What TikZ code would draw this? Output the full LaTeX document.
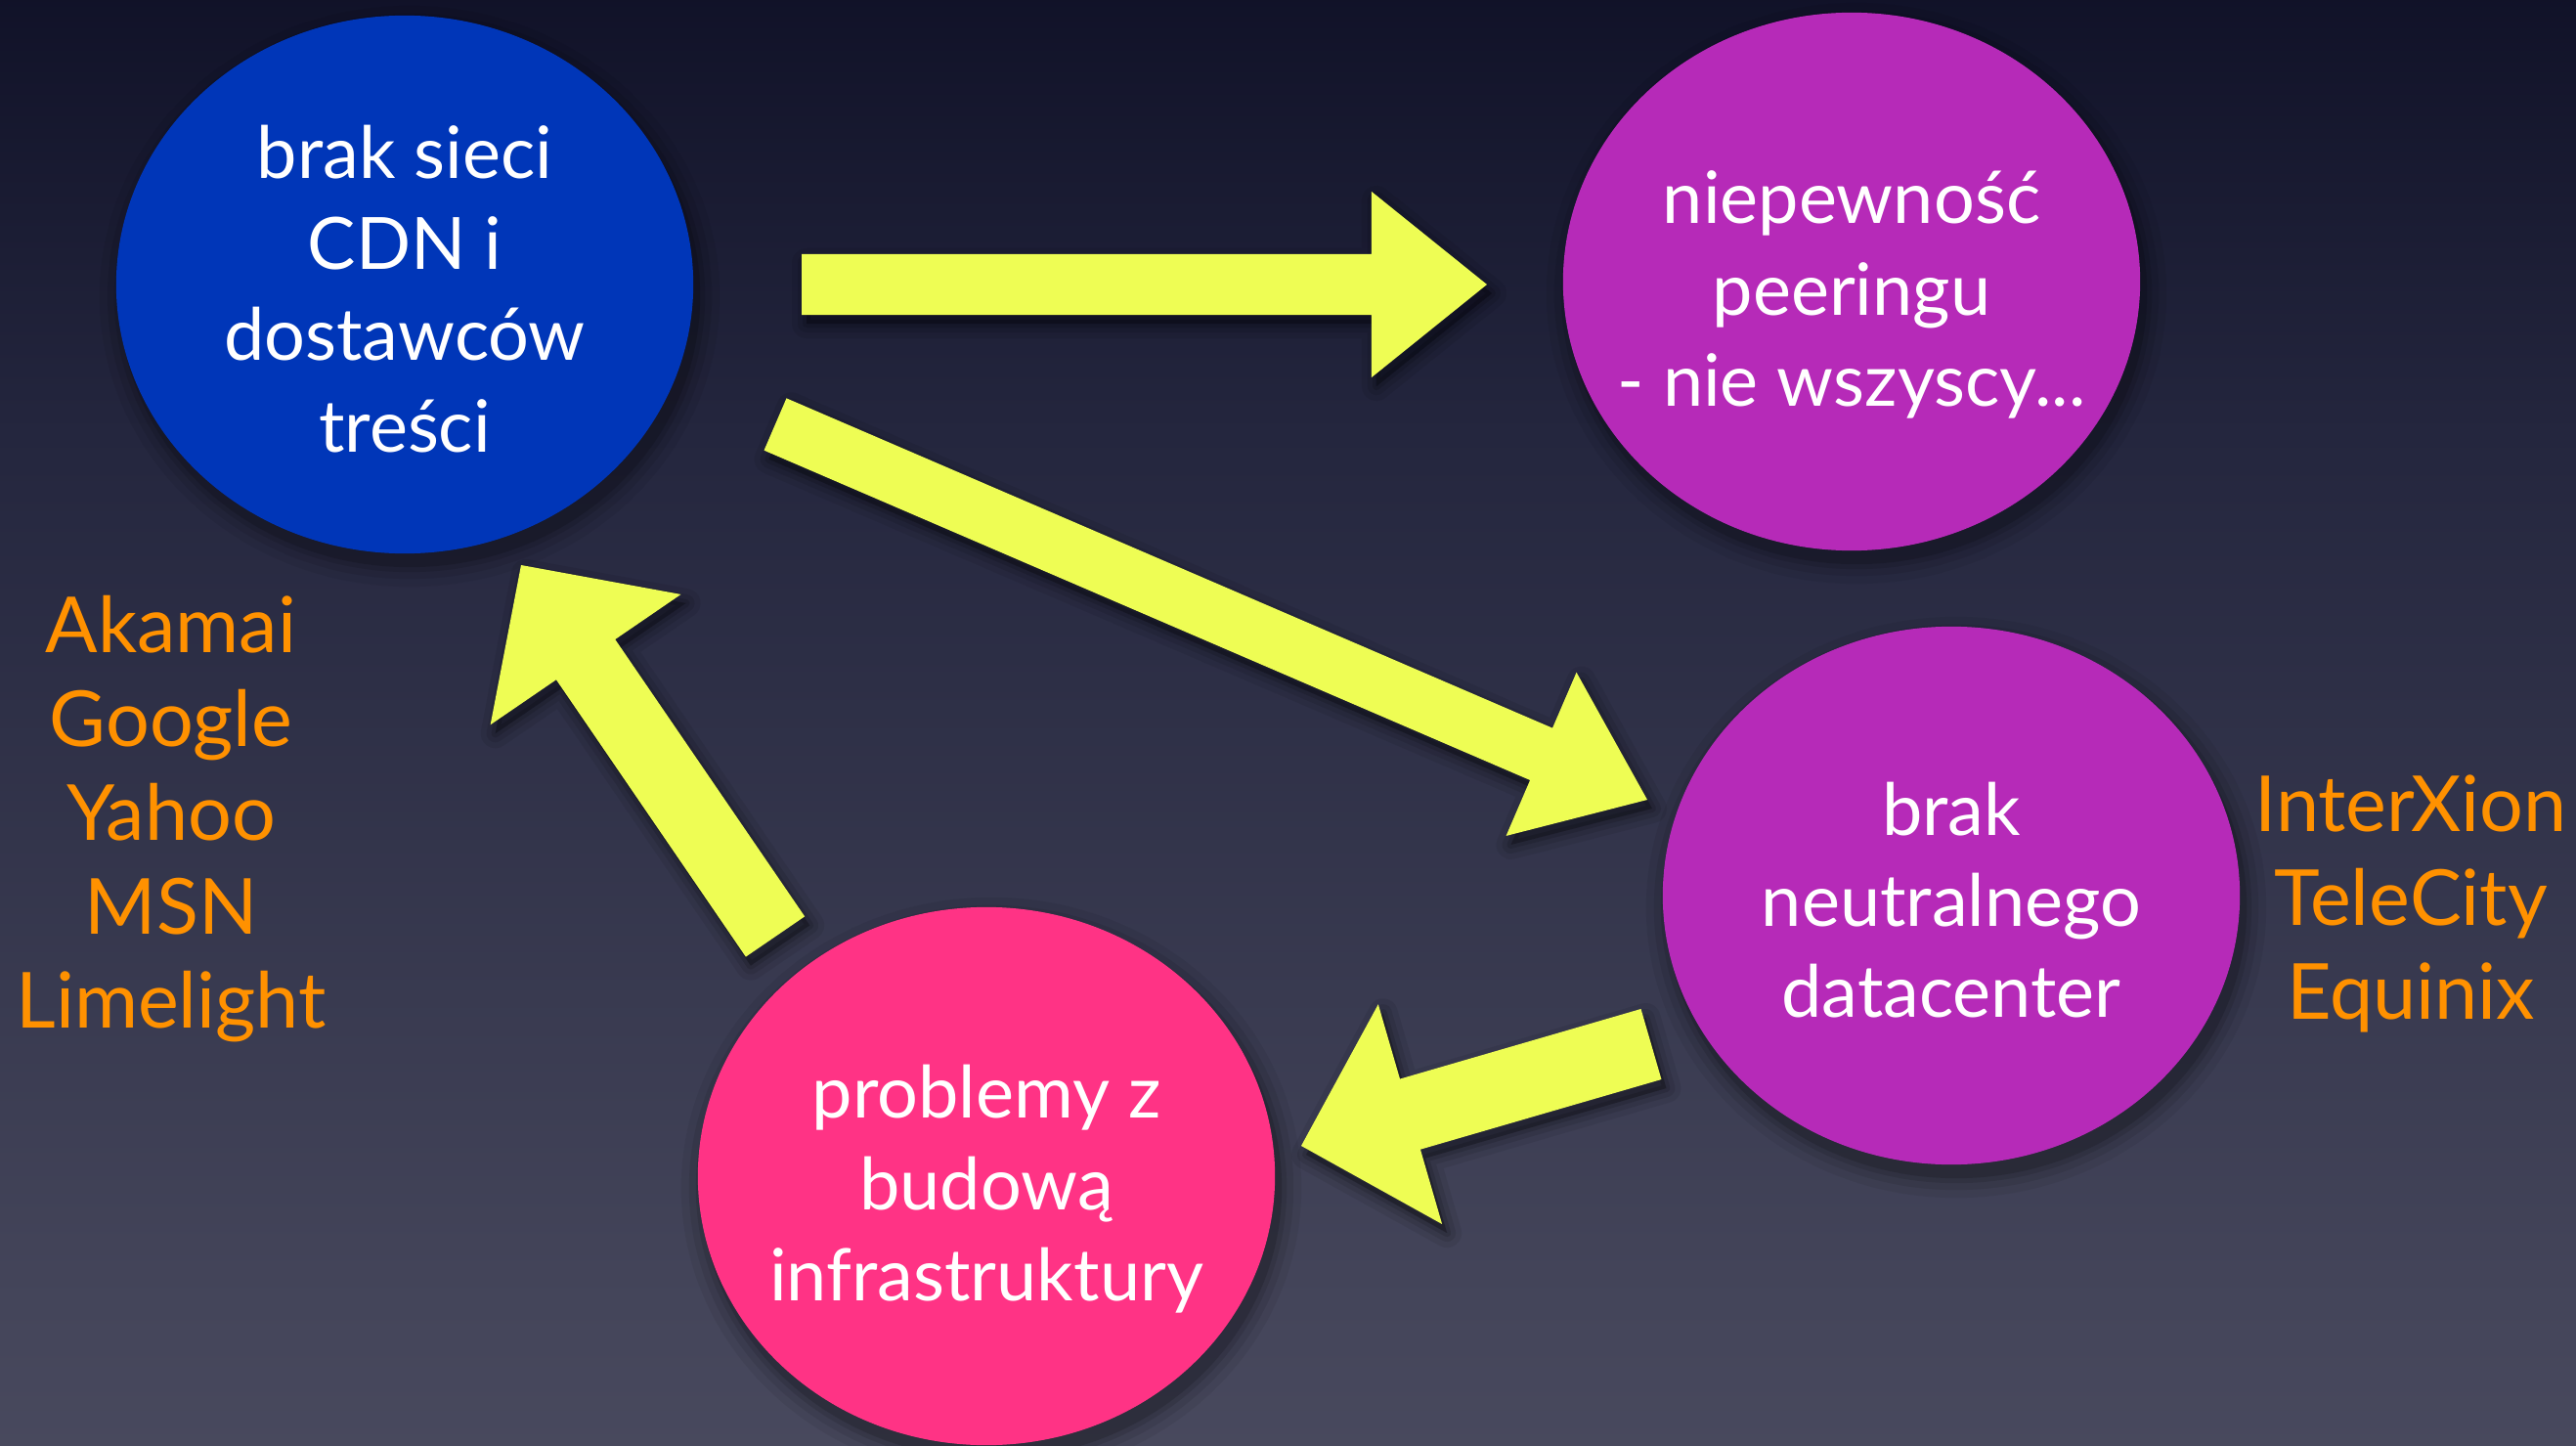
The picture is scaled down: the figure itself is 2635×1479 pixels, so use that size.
\documentclass[tikz,border=0pt]{standalone}
\usepackage{fontspec}
\setmainfont{Lato}
\usetikzlibrary{calc,shapes.geometric}
\definecolor{cblue}{RGB}{0,54,184}
\definecolor{cpurple}{RGB}{182,42,184}
\definecolor{cpink}{RGB}{255,51,133}
\definecolor{cyellow}{RGB}{238,253,84}
\definecolor{corange}{RGB}{255,145,0}
\definecolor{bg0}{RGB}{0,0,4}
\definecolor{bg1}{RGB}{4,5,26}
\definecolor{bg2}{RGB}{36,38,62}
\definecolor{bg3}{RGB}{68,69,90}
\definecolor{bg4}{RGB}{92,92,110}
\pgfdeclareverticalshading{bgshade}{100bp}{color(0bp)=(bg4); color(30bp)=(bg3); color(60bp)=(bg2); color(85bp)=(bg1); color(100bp)=(bg0)}
\newcommand\topstrut[1]{\rule{0pt}{#1}}
\newcommand\blockarrow[5]{%
  \path ($(#2)!#5!(#1)$) coordinate (hb);
  \path ($(#1)!#3!90:(#2)$) coordinate (p1)
        ($(hb)!#3!-90:(#1)$) coordinate (p2)
        ($(hb)!#4!-90:(#1)$) coordinate (p3)
        ($(hb)!#4!90:(#1)$) coordinate (p5)
        ($(hb)!#3!90:(#1)$) coordinate (p6)
        ($(#1)!#3!-90:(#2)$) coordinate (p7);
  \foreach \lw/\op in {0.30/0.07,0.18/0.09,0.08/0.12}{
    \filldraw[black, opacity=\op, line width=\lw cm, line join=round,
      transform canvas={xshift=0.05cm,yshift=-0.09cm}]
      (p1) -- (p2) -- (p3) -- (#2) -- (p5) -- (p6) -- (p7) -- cycle;
  }
  \fill[arrowfill] (p1) -- (p2) -- (p3) -- (#2) -- (p5) -- (p6) -- (p7) -- cycle;
}
\begin{document}
\begin{tikzpicture}[x=0.01cm,y=-0.01cm,
  bubble/.style={ellipse, minimum width=5.9cm, minimum height=5.5cm,
    inner xsep=-1.5cm, inner ysep=0pt, text=white, align=center,
    font=\fontsize{21}{26.5}\selectfont},
  side/.style={text=corange, align=center, inner sep=0pt,
    font=\fontsize{22.5}{27.3}\selectfont},
  arrowfill/.style={fill=cyellow}]
\useasboundingbox (0,0) rectangle (2635,1479);
\fill[shading=bgshade] (0,0) rectangle (2635,1479);

% circle centres
\coordinate (cB) at (414,291);
\coordinate (cP) at (1894,288);
\coordinate (cD) at (1996,916);
\coordinate (cI) at (1009,1203);

% circle shadows
\foreach \c in {cB,cP,cD,cI}{
  \foreach \rx/\ry/\op in {3.17/2.97/0.06,3.09/2.89/0.08,3.02/2.82/0.10,2.97/2.77/0.14}{
    \fill[black, opacity=\op, transform canvas={xshift=0.05cm,yshift=-0.12cm}]
      (\c) ellipse [x radius=\rx cm, y radius=\ry cm];
  }
}

\node[bubble, fill=cblue] (cdn) at (cB) {\topstrut{18pt}brak sieci\\CDN i\\dostawców\\treści};
\node[bubble, fill=cpurple] (peer) at (cP) {\topstrut{23pt}niepewność\\peeringu\\- nie wszyscy...};
\node[bubble, fill=cpurple] (dc) at (cD) {\topstrut{18pt}brak\\neutralnego\\datacenter};
\node[bubble, fill=cpink] (infra) at (cI) {\topstrut{23pt}problemy z\\budową\\infrastruktury};

\node[side] (cdnlist) at (175,838) {Akamai\\Google\\Yahoo\\MSN\\Limelight};
\node[side] (dclist) at (2466,924) {InterXion\\TeleCity\\Equinix};

% arrows
\coordinate (a1s) at (820,291);
\coordinate (a1t) at (1521,291);
\coordinate (a2s) at (793,434);
\coordinate (a2t) at (1685,818);
\coordinate (a3s) at (1689,1068);
\coordinate (a3t) at (1331,1172);
\coordinate (a4s) at (793,958);
\coordinate (a4t) at (533,578);
\blockarrow{a1s}{a1t}{0.31cm}{0.95cm}{1.18cm}
\blockarrow{a2s}{a2t}{0.29cm}{0.91cm}{1.18cm}
\blockarrow{a3s}{a3t}{0.375cm}{1.17cm}{1.16cm}
\blockarrow{a4s}{a4t}{0.365cm}{1.18cm}{1.17cm}
\end{tikzpicture}
\end{document}
